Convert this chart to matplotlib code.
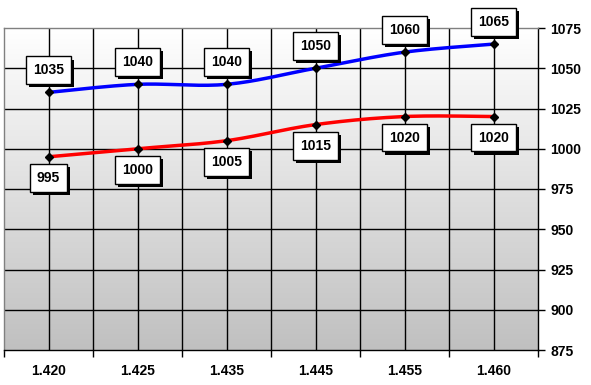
import numpy as np
import matplotlib
matplotlib.use("Agg")
import matplotlib.pyplot as plt
import matplotlib.patheffects as pe
from matplotlib.colors import LinearSegmentedColormap

categories = ["1.420", "1.425", "1.435", "1.445", "1.455", "1.460"]
series_blue = [1035, 1040, 1040, 1050, 1060, 1065]
series_red = [995, 1000, 1005, 1015, 1020, 1020]
y_ticks = [875, 900, 925, 950, 975, 1000, 1025, 1050, 1075]

plt.rcParams['font.family'] = ['Liberation Sans', 'DejaVu Sans']

W, H = 591, 385
fig = plt.figure(figsize=(W / 100, H / 100), dpi=100)
ax = fig.add_axes([4 / W, 1 - 350 / H, 534 / W, 322 / H])

n = len(categories)
ax.set_xlim(0, n)
ax.set_ylim(875, 1075)

# gradient background
grad = np.linspace(0, 1, 256).reshape(-1, 1)
cmap = LinearSegmentedColormap.from_list("g", ["#c0c0c0", "#ffffff"])
ax.imshow(grad, aspect='auto', cmap=cmap, extent=[0, n, 875, 1075],
          origin='lower', zorder=0, interpolation='bilinear')

xs = np.arange(n) + 0.5

# grid
for yv in y_ticks[1:-1]:
    ax.axhline(yv, color='black', lw=1, zorder=1)
for xv in list(np.arange(1, n)) + list(xs):
    ax.axvline(xv, color='black', lw=1, zorder=1)


def smooth(x, y, steps=30):
    x = np.asarray(x, float)
    y = np.asarray(y, float)
    px = np.concatenate([[x[0]], x, [x[-1]]])
    py = np.concatenate([[y[0]], y, [y[-1]]])
    ox, oy = [], []
    for i in range(1, len(px) - 2):
        p0, p1, p2, p3 = (np.array([px[j], py[j]]) for j in range(i - 1, i + 3))
        c1 = p1 + (p2 - p0) / 6
        c2 = p2 - (p3 - p1) / 6
        t = np.linspace(0, 1, steps)[:, None]
        b = ((1 - t) ** 3) * p1 + 3 * (1 - t) ** 2 * t * c1 + 3 * (1 - t) * t ** 2 * c2 + t ** 3 * p2
        ox.extend(b[:, 0]); oy.extend(b[:, 1])
    return ox, oy


for vals, col, off in [(series_blue, '#0000ff', 22), (series_red, '#ff0000', -21)]:
    sx, sy = smooth(xs, vals)
    ax.plot(sx, sy, color=col, lw=2.5, zorder=3, solid_capstyle='butt')
    ax.plot(xs, vals, linestyle='none', marker='D', ms=4.5, color='black', zorder=4)
    for x, v in zip(xs, vals):
        a = ax.annotate(str(v), (x, v), xytext=(0, off * 0.72), textcoords='offset points',
                        ha='center', va='center', fontsize=10, fontweight='bold', color='black',
                        bbox=dict(boxstyle='square,pad=0.5', fc='white', ec='black', lw=1),
                        zorder=6, annotation_clip=False)
        a.get_bbox_patch().set_path_effects([
            pe.SimplePatchShadow(offset=(2.2, -2.2), shadow_rgbFace='black', alpha=1.0),
            pe.Normal()])

# axes
ax.yaxis.tick_right()
ax.set_yticks(y_ticks)
ax.set_yticklabels([str(v) for v in y_ticks], fontsize=10, fontweight='bold')
ax.set_xticks(np.arange(0, n + 1))
ax.set_xticklabels([])
ax.set_xticks(xs, minor=True)
ax.set_xticklabels(categories, minor=True, fontsize=10, fontweight='bold')
ax.tick_params(axis='x', which='major', length=5, width=1, direction='out')
ax.tick_params(axis='x', which='minor', length=0, pad=10)
ax.tick_params(axis='y', length=5, width=1, direction='out', pad=4)

ax.spines['top'].set_color('#808080')
ax.spines['left'].set_color('#808080')
ax.spines['bottom'].set_color('black')
ax.spines['right'].set_color('black')
for s in ax.spines.values():
    s.set_linewidth(1)
    s.set_zorder(2)

fig.savefig('out.png', dpi=100, facecolor='white')
